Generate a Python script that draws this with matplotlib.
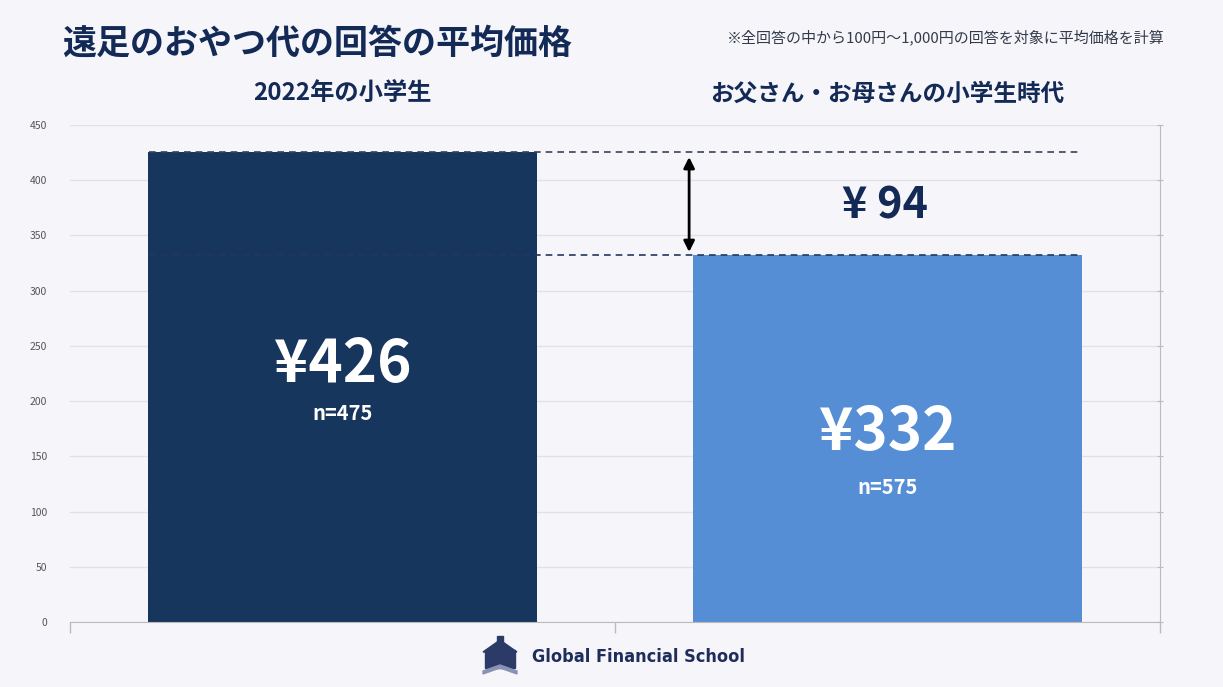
import matplotlib
matplotlib.use("Agg")
import matplotlib.pyplot as plt
from matplotlib.patches import Rectangle, Polygon

plt.rcParams['font.family'] = ['Noto Sans CJK JP', 'DejaVu Sans']

# ---- data ----
categories = ["2022年の小学生", "お父さん・お母さんの小学生時代"]
values = [426, 332]
sample_sizes = [475, 575]
yticks = [0, 50, 100, 150, 200, 250, 300, 350, 400, 450]
title = "遠足のおやつ代の回答の平均価格"
note = "※全回答の中から100円～1,000円の回答を対象に平均価格を計算"
bar_colors = ["#17365d", "#558ed5"]

BG = "#f6f6fa"
NAVY = "#132a57"

fig = plt.figure(figsize=(12.23, 6.87), dpi=100, facecolor=BG)
ax = fig.add_axes([70/1223, 1-622/687, 1090/1223, 497/687], facecolor=BG)

x = list(range(len(categories)))
ax.bar(x, values, width=0.712, color=bar_colors, zorder=2)

ax.set_xlim(-0.5, 1.5)
ax.set_ylim(0, 450)
ax.set_yticks(yticks)
ax.set_yticklabels([str(t) for t in yticks], fontsize=7.5, color="#555555")
ax.set_xticks([-0.5, 0.5, 1.5])
ax.set_xticklabels([])
ax.tick_params(axis='x', direction='out', length=8, color="#bbbbbb", width=1)
ax.tick_params(axis='y', left=False, right=True, labelleft=True,
               direction='inout', length=5, color="#bbbbbb", pad=14)
ax.grid(axis='y', color="#e2e2e6", linewidth=1, zorder=0)
for s in ['top', 'left']:
    ax.spines[s].set_visible(False)
ax.spines['bottom'].set_color("#bbbbbb")
ax.spines['right'].set_color("#bbbbbb")

# dashed reference lines
ax.hlines(values[0], -0.355, 1.352, colors="#3a4356", linestyles=(0, (4, 3)),
          linewidth=1.2, zorder=3)
ax.hlines(values[1], -0.355, 1.357, colors="#24375e", linestyles=(0, (4, 3)),
          linewidth=1.2, zorder=3)

# difference arrow
ax.annotate("", xy=(0.636, values[0] - 5), xytext=(0.636, values[1] + 3),
            arrowprops=dict(arrowstyle='<|-|>', color='black', lw=2,
                            mutation_scale=16, shrinkA=0, shrinkB=0), zorder=4)
diff = values[0] - values[1]
ax.text(0.995, 377, f"¥ {diff}", ha='center', va='center', fontsize=31,
        fontweight='bold', color=NAVY, zorder=4)

# bar labels
label_y = [233, 171]
n_y = [189, 122]
for i in range(len(categories)):
    ax.text(x[i], label_y[i], f"¥{values[i]}", ha='center', va='center',
            fontsize=42, fontweight='bold', color='white', zorder=4)
    ax.text(x[i], n_y[i], f"n={sample_sizes[i]}", ha='center', va='center',
            fontsize=14.5, fontweight='bold', color='white', zorder=4)

# category headers above
header_sizes = [17.5, 17]
for i, c in enumerate(categories):
    ax.text(x[i], 478, c, ha='center', va='center', fontsize=header_sizes[i],
            fontweight='bold', color=NAVY, clip_on=False)

# title & note
fig.text(62/1223, 1-43/687, title, ha='left', va='center', fontsize=24.5,
         fontweight='bold', color=NAVY)
fig.text(1165/1223, 1-37/687, note, ha='right', va='center', fontsize=10.8,
         color="#333a4a")

# logo
fig.text(532/1223, 1-657/687, "Global Financial School", ha='left', va='center',
         fontsize=13, fontweight='bold', color="#1f2d5c",
         family=['DejaVu Sans'], fontstretch='condensed')
W, H = 1223, 687
def fx(px): return px / W
def fy(py): return 1 - py / H
icon_col = "#2c3a68"
fig.patches.append(Rectangle((fx(485), fy(668)), fx(30)-fx(0), fy(650)-fy(668),
                             transform=fig.transFigure, color=icon_col))
fig.patches.append(Polygon([(fx(483), fy(652)), (fx(500), fy(640)), (fx(517), fy(652))],
                           closed=True, transform=fig.transFigure, color=icon_col))
fig.patches.append(Rectangle((fx(497), fy(644)), fx(6)-fx(0), fy(636)-fy(644),
                             transform=fig.transFigure, color=icon_col))
fig.patches.append(Polygon([(fx(483), fy(674)), (fx(500), fy(668)), (fx(517), fy(674)),
                            (fx(517), fy(671)), (fx(500), fy(665)), (fx(483), fy(671))],
                           closed=True, transform=fig.transFigure, color="#8a93b5"))

fig.savefig("out.png", dpi=100, facecolor=BG)
